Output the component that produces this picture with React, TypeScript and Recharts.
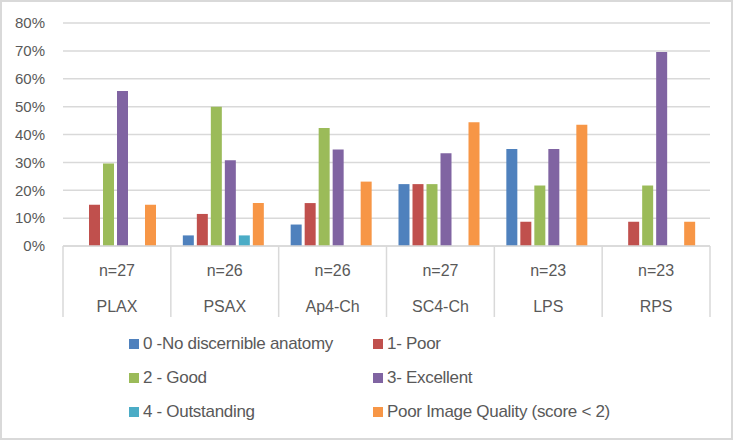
import React from 'react'
import { BarChart, Bar, XAxis, YAxis, CartesianGrid } from 'recharts'

const categories = ['PLAX', 'PSAX', 'Ap4-Ch', 'SC4-Ch', 'LPS', 'RPS']
const sampleSizes = [27, 26, 26, 27, 23, 23]

const noAnatomy = [0, 0.038, 0.077, 0.222, 0.348, 0]
const poor = [0.148, 0.115, 0.154, 0.222, 0.087, 0.087]
const good = [0.296, 0.5, 0.423, 0.222, 0.217, 0.217]
const excellent = [0.556, 0.308, 0.346, 0.333, 0.348, 0.696]
const outstanding = [0, 0.038, 0, 0, 0, 0]
const poorQuality = [0.148, 0.154, 0.231, 0.444, 0.435, 0.087]

const yTicks = [0, 0.1, 0.2, 0.3, 0.4, 0.5, 0.6, 0.7, 0.8]

const series = [
  { key: 'noAnatomy', name: '0 -No discernible anatomy', color: '#4F81BD', values: noAnatomy },
  { key: 'poor', name: '1- Poor', color: '#C0504D', values: poor },
  { key: 'good', name: '2 - Good', color: '#9BBB59', values: good },
  { key: 'excellent', name: '3- Excellent', color: '#8064A2', values: excellent },
  { key: 'outstanding', name: '4 - Outstanding', color: '#4BACC6', values: outstanding },
  { key: 'poorQuality', name: 'Poor Image Quality (score < 2)', color: '#F79646', values: poorQuality },
]

const data = categories.map((name, i) => {
  const row: any = { name, n: sampleSizes[i] }
  series.forEach((s) => {
    row[s.key] = s.values[i]
  })
  return row
})

const W = 733
const H = 440
const MARGIN = { top: 23, right: 23, left: 0, bottom: 123 }
const Y_WIDTH = 63
const X_HEIGHT = 71
const BAND = (W - Y_WIDTH - MARGIN.left - MARGIN.right) / categories.length
const FONT = '"Liberation Sans", Arial, sans-serif'
const TEXT = '#595959'
const GRID = '#d9d9d9'

const CategoryTick = ({ x, y, payload, index }: any) => {
  const left = x - BAND / 2
  const right = x + BAND / 2
  return (
    <g>
      <line x1={left} y1={y} x2={left} y2={y + X_HEIGHT} stroke={GRID} strokeWidth={1.5} />
      {index === categories.length - 1 && (
        <line x1={right} y1={y} x2={right} y2={y + X_HEIGHT} stroke={GRID} strokeWidth={1.5} />
      )}
      <text x={x} y={y + 24} textAnchor="middle" dominantBaseline="central" fill={TEXT} fontSize={16} fontFamily={FONT}>
        n={sampleSizes[index]}
      </text>
      <text x={x} y={y + 60} textAnchor="middle" dominantBaseline="central" fill={TEXT} fontSize={16} fontFamily={FONT}>
        {payload.value}
      </text>
    </g>
  )
}

export default function App() {
  return (
    <div
      style={{
        position: 'absolute',
        left: 0,
        top: 0,
        width: W,
        height: H,
        boxSizing: 'border-box',
        border: `2px solid ${GRID}`,
        background: '#fff',
        fontFamily: FONT,
      }}
    >
      <div style={{ position: 'absolute', left: -2, top: -2 }}>
        <BarChart width={W} height={H} data={data} margin={MARGIN} barCategoryGap={12} barGap={3}>
          <CartesianGrid vertical={false} stroke={GRID} strokeWidth={1.5} />
          <XAxis
            dataKey="name"
            height={X_HEIGHT}
            interval={0}
            tickLine={false}
            tickSize={0}
            tickMargin={0}
            axisLine={{ stroke: GRID, strokeWidth: 1.5 }}
            tick={<CategoryTick />}
          />
          <YAxis
            width={Y_WIDTH}
            domain={[0, 0.8]}
            ticks={yTicks}
            axisLine={false}
            tickLine={false}
            tickSize={0}
            tickMargin={18}
            tickFormatter={(v: number) => `${Math.round(v * 100)}%`}
            tick={{ fill: TEXT, fontSize: 15, fontFamily: FONT }}
          />
          {series.map((s) => (
            <Bar key={s.key} dataKey={s.key} name={s.name} fill={s.color} isAnimationActive={false} />
          ))}
        </BarChart>
      </div>
      {series.map((s, i) => {
        const col = i % 2
        const row = Math.floor(i / 2)
        return (
          <div
            key={s.key}
            style={{
              position: 'absolute',
              left: (col === 0 ? 129 : 373) - 2,
              top: 344 + row * 34 - 2 - 11,
              height: 22,
              display: 'flex',
              alignItems: 'center',
              whiteSpace: 'nowrap',
              color: TEXT,
              fontSize: 17,
              letterSpacing: -0.3,
            }}
          >
            <span style={{ display: 'inline-block', width: 10, height: 10, background: s.color, marginRight: 4 }} />
            {s.name}
          </div>
        )
      })}
    </div>
  )
}
